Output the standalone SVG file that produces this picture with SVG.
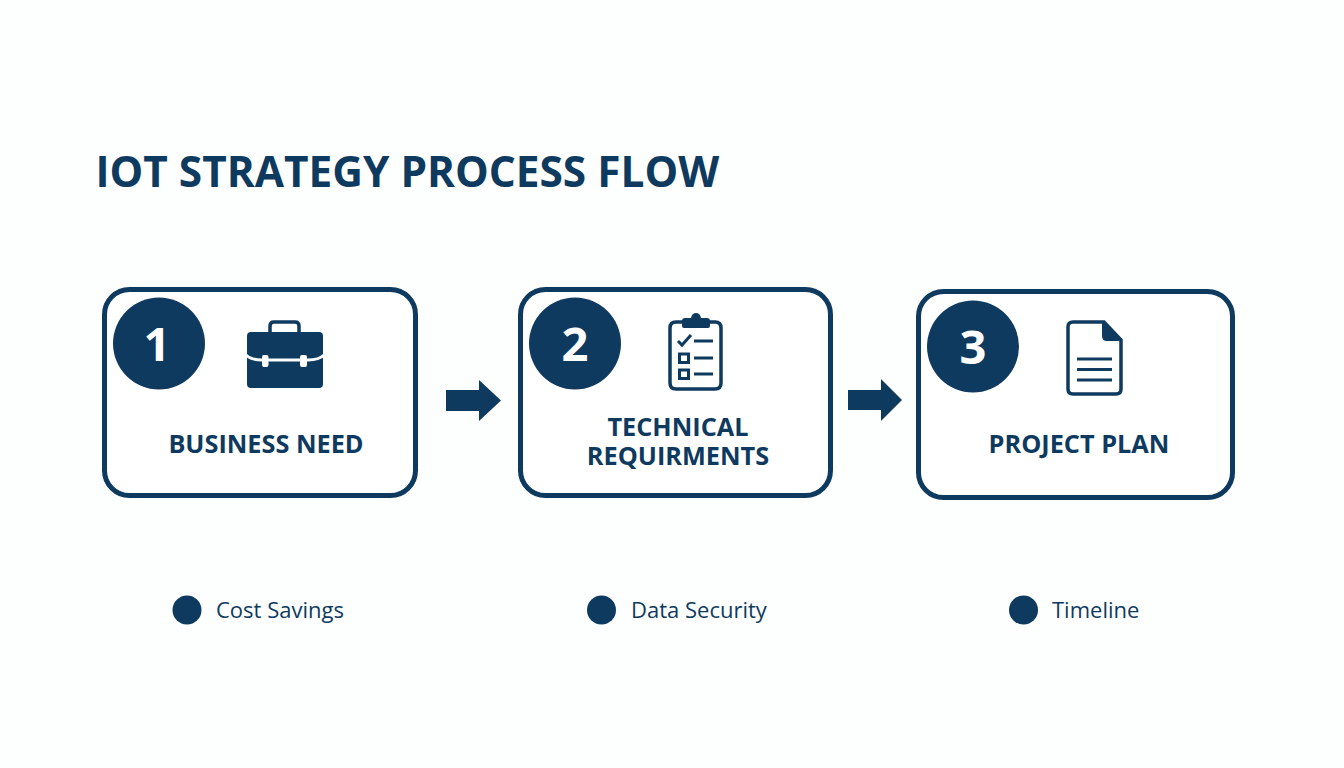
<svg xmlns="http://www.w3.org/2000/svg" width="1344" height="768" viewBox="0 0 1344 768">
<style>
.f{fill:#0f3a5f}
.w{fill:#fff}
.box{fill:#fff;stroke:#0f3a5f;stroke-width:5}
.t{font-family:"Open Sans","Noto Sans",sans-serif;fill:#0f3a5f}
.title{font-size:42.400px;font-weight:700}
.lab{font-size:25.300px;font-weight:700;text-anchor:middle}
.num{font-size:47px;font-weight:700;fill:#fff;text-anchor:middle}
.sub{font-size:22px;font-weight:400}
.ln{fill:none;stroke:#0f3a5f;stroke-width:3}
.ic{fill:none;stroke:#0f3a5f;stroke-width:3.500}
</style>
<rect width="1344" height="768" fill="#fdfefe"/>
<text id="title" class="t title" x="95.500" y="187">IOT STRATEGY PROCESS FLOW</text>
<g id="node1">
<rect class="box" x="104.500" y="289.500" width="311" height="206" rx="25"/>
<circle class="f" cx="159" cy="343.500" r="46"/>
<text class="t num" x="157" y="361">1</text>
<path class="ic" d="M270 333v-7q0-4 4-4h21q4 0 4 4v7"/>
<rect class="f" x="247" y="332" width="76" height="56" rx="4"/>
<path d="M246 355q5 5 16 5h46q11 0 16-5" fill="none" stroke="#fff" stroke-width="3"/>
<rect class="w" x="262" y="355" width="6.500" height="12" rx="2"/>
<rect class="w" x="300" y="355" width="7" height="12" rx="2"/>
<text class="t lab" x="266" y="453">BUSINESS NEED</text>
</g>
<g id="node2">
<rect class="box" x="520.500" y="289.500" width="310" height="206" rx="25"/>
<circle class="f" cx="575" cy="343.500" r="46"/>
<text class="t num" x="575" y="361">2</text>
<path class="ic" d="M684 322h-8q-6 0-6 6v55q0 6 6 6h39q6 0 6-6v-55q0-6-6-6h-7"/>
<path class="f" d="M684 328q-2 0-2-2v-5q0-3 3-3h6q1-5 5-5t5 5h6q3 0 3 3v5q0 2-2 2z"/>
<path class="ln" d="M678 341l4 4 9-10M694 341h19M694 358h19M694 374h19"/>
<rect class="ln" x="679.500" y="354" width="9" height="8.500"/>
<rect class="ln" x="679.500" y="370" width="9" height="8.500"/>
<text class="t lab" text-anchor="middle"><tspan x="678" y="436">TECHNICAL</tspan><tspan x="678" y="465">REQUIRMENTS</tspan></text>
</g>
<g id="node3">
<rect class="box" x="918.500" y="291.500" width="314" height="206" rx="25"/>
<circle class="f" cx="973" cy="346.500" r="46"/>
<text class="t num" x="973" y="364">3</text>
<path class="ic" d="M1104 322h-31q-5 0-5 5v62q0 5 5 5h43q5 0 5-5v-49z"/>
<path class="f" d="M1103 321l19 19v1h-15q-5 0-5-5v-15z"/>
<path class="ln" d="M1077 359h35M1077 369.500h35M1077 380h35"/>
<text class="t lab" x="1079" y="453">PROJECT PLAN</text>
</g>
<g id="connectors">
<path class="f" d="M446 390h33v-10l22 20.500-22 20.500v-10h-33z"/>
<path class="f" d="M848 390h33v-11l21 21-21 21v-11h-33z"/>
</g>
<g id="note1"><circle class="f" cx="187" cy="610" r="14.500"/><text class="t sub" x="216" y="618">Cost Savings</text></g>
<g id="note2"><circle class="f" cx="601.500" cy="610" r="14.500"/><text class="t sub" x="631" y="618">Data Security</text></g>
<g id="note3"><circle class="f" cx="1023.500" cy="610" r="14.500"/><text class="t sub" x="1052" y="618">Timeline</text></g>
</svg>
